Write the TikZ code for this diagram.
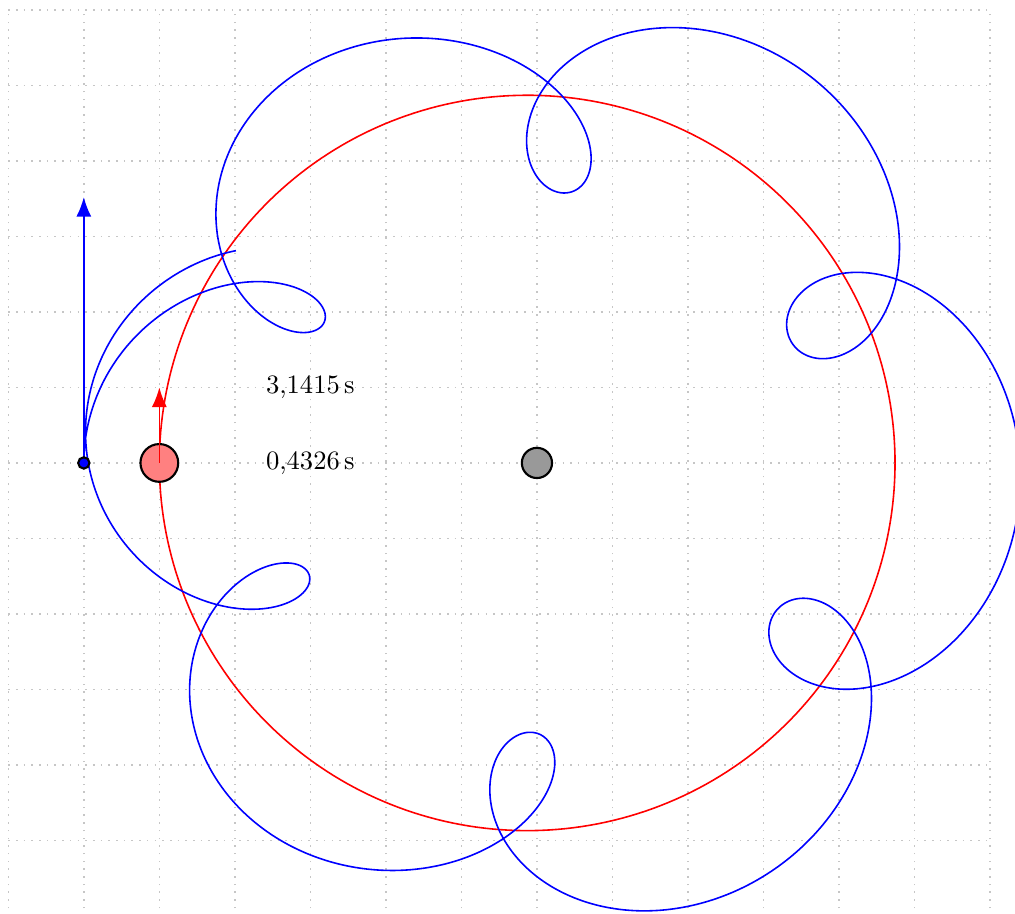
\documentclass[tikz,border=0pt]{standalone}
\usetikzlibrary{arrows.meta}
\tikzset{
  body/.style={circle,draw=black,thick,inner sep=0pt,minimum size=#1},
  track/.style={semithick},
  vel/.style={-{Latex[length=2.6mm,width=2mm]},semithick},
  gridline/.style={draw=gray!45,line width=0.6pt,dash pattern=on 0.6pt off 2.3pt},
  declare function={
    % time from the moon's eccentric anomaly
    mt(\x)=(\x-0.25*sin(deg(\x)))/14.5241;
    % planet: mean and eccentric anomaly
    ma(\x)=pi+2.10808*\x;
    ea(\x)=ma(\x)+0.0265*sin(deg(ma(\x)))+0.000351*sin(deg(2*ma(\x)));
    px(\x)=4.871*(cos(deg(ea(\x)))-0.0265);
    py(\x)=-4.869*sin(deg(ea(\x)));
    % moon = planet + relative kepler orbit
    mx(\x)=px(mt(\x))-1.3333*(cos(deg(\x))-0.25);
    my(\x)=py(mt(\x))+1.2910*sin(deg(\x));
  }
}

\begin{document}
\begin{tikzpicture}
  \useasboundingbox (-7.11,-5.96) rectangle (6.33,6.13);
  \draw[gridline] (-7,-6) grid (6,6);

  % orbits
  \draw[track,red] plot[variable=\x,domain=0:3.1416,samples=300] ({px(\x)},{py(\x)});
  \draw[track,blue] plot[variable=\x,domain=0:45.872,samples=1800] ({mx(\x)},{my(\x)});

  % bodies
  \node[body=0.4cm,fill=gray!80] (sun) at (0,0) {};
  \node[body=0.5cm,fill=red!50] (planet) at (-5,0) {};
  \coordinate (vplanet) at (-5,1);
  \coordinate (vmoon) at (-6,3.52);
  \draw[vel,red] (planet.center) -- (vplanet);
  \draw[vel,blue] (-6,0) -- (vmoon);
  \node[body=0.15cm,fill=blue] (moon) at (-6,0) {};

  % times
  \node (tsim) at (-3,1) {3,1415\,s};
  \node (tmoon) at (-3,0) {0,4326\,s};
\end{tikzpicture}
\end{document}
